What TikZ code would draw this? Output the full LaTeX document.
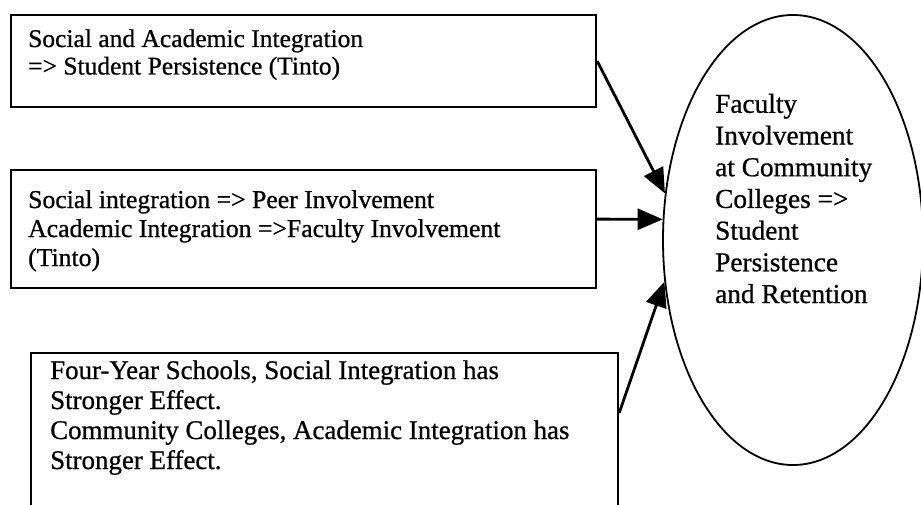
\documentclass[tikz,border=0pt]{standalone}
\usepackage{fontspec}
\setmainfont{Liberation Serif}[FakeBold=0.8]
\usetikzlibrary{shapes.geometric,arrows.meta}
\begin{document}
\begin{tikzpicture}[x=1pt,y=-1pt,
  box/.style={draw,line width=2.2pt,rectangle,anchor=north west,inner sep=0pt},
  txt/.style={anchor=base west,inner sep=0pt,align=left},
  arr/.style={line width=2.8pt,-{Triangle[length=25pt,width=21pt]}}]
\useasboundingbox (0,0) rectangle (921,505);
\clip (0,0) rectangle (921,505);
% boxes
\node[box,minimum width=585pt,minimum height=92pt] (b1) at (10,14) {};
\node[box,minimum width=585pt,minimum height=118pt] (b2) at (10,169) {};
\node[box,minimum width=587pt,minimum height=180pt] (b3) at (30,352) {};
% ellipse
\node[draw,ellipse,line width=1.8pt,minimum width=260pt,minimum height=450pt,inner sep=0pt] (ell) at (793,240) {};
% texts (anchored at the baseline of the last line)
\node[txt,font=\fontsize{25.5pt}{27.5pt}\selectfont] (t1) at (28,74.5)
  {Social and Academic Integration\\=> Student Persistence (Tinto)};
\node[txt,font=\fontsize{25.7pt}{29pt}\selectfont] (t2) at (28,266)
  {Social integration => Peer Involvement\\Academic Integration =>Faculty Involvement\\(Tinto)};
\node[txt,font=\fontsize{26.9pt}{30pt}\selectfont] (t3) at (50,469)
  {Four-Year Schools, Social Integration has\\Stronger Effect.\\Community Colleges, Academic Integration has\\Stronger Effect.};
\node[txt,font=\fontsize{27.3pt}{31.7pt}\selectfont] (t4) at (715,303)
  {Faculty\\Involvement\\at Community\\Colleges =>\\Student\\Persistence\\and Retention};
% arrows
\draw[arr] (b1.east) -- (ell.160);
\draw[arr] ([yshift=10pt]b2.east) -- (ell.171);
\draw[arr] ([yshift=-61pt]b3.north east) -- (ell.198);
\end{tikzpicture}
\end{document}
